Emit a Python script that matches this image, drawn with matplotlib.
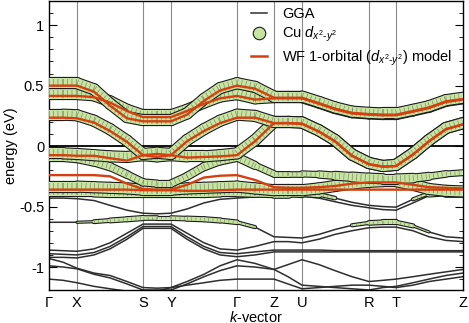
import numpy as np
import matplotlib
matplotlib.use("Agg")
import matplotlib.pyplot as plt
from matplotlib.lines import Line2D
from matplotlib.collections import LineCollection
from matplotlib.ticker import MultipleLocator, FixedLocator

plt.rcParams['font.family'] = ['Liberation Sans', 'DejaVu Sans']
plt.rcParams['mathtext.fontset'] = 'custom'
plt.rcParams['mathtext.rm'] = 'Liberation Sans'
plt.rcParams['mathtext.it'] = 'Liberation Sans:italic'
plt.rcParams['axes.unicode_minus'] = False
plt.rcParams['lines.scale_dashes'] = False

# ---------------- data ----------------
# k-path sample positions (path length units)
k_nodes = [0, 14, 28, 45, 61, 78, 94, 108, 122, 138, 155, 171, 188, 206, 225,
           239, 253, 270, 286, 303, 320, 334, 347, 364, 380, 397, 414]
hs_pos = [0, 28, 94, 122, 188, 225, 253, 320, 347, 414]
hs_labels = ['Γ', 'X', 'S', 'Y', 'Γ', 'Z', 'U', 'R', 'T', 'Z']

# GGA bands with Cu d(x2-y2) weight (eV)
band_A = [0.52, 0.52, 0.52, 0.47, 0.35, 0.24, 0.215, 0.215, 0.215, 0.27, 0.39, 0.48, 0.52,
          0.49, 0.41, 0.41, 0.41, 0.365, 0.32, 0.285, 0.275, 0.27, 0.27, 0.30, 0.33, 0.38, 0.40]
band_B = [0.43, 0.43, 0.43, 0.42, 0.37, 0.30, 0.255, 0.255, 0.255, 0.30, 0.36, 0.41, 0.43,
          0.395, 0.405, 0.405, 0.405, 0.36, 0.315, 0.28, 0.27, 0.265, 0.265, 0.295, 0.325, 0.375, 0.395]
band_C = [0.26, 0.26, 0.255, 0.21, 0.14, 0.045, -0.065, -0.055, -0.065, 0.05, 0.14, 0.21, 0.26,
          0.25, 0.20, 0.20, 0.195, 0.13, 0.05, -0.07, -0.14, -0.165, -0.155, -0.06, 0.05, 0.15, 0.19]
band_D = [-0.06, -0.06, -0.065, -0.075, -0.085, -0.09, -0.075, -0.085, -0.075, -0.085, -0.085, -0.075, -0.06,
          0.05, 0.20, 0.20, 0.195, 0.13, 0.05, -0.07, -0.14, -0.165, -0.155, -0.06, 0.05, 0.15, 0.19]
band_E = [-0.09, -0.09, -0.10, -0.13, -0.17, -0.235, -0.30, -0.31, -0.31, -0.25, -0.17, -0.12, -0.09,
          -0.16, -0.23, -0.23, -0.23, -0.235, -0.245, -0.255, -0.265, -0.27, -0.27, -0.265, -0.25, -0.23, -0.22]
band_F = [-0.335, -0.335, -0.335, -0.34, -0.345, -0.35, -0.36, -0.36, -0.36, -0.35, -0.345, -0.34, -0.335,
          -0.35, -0.365, -0.365, -0.365, -0.35, -0.33, -0.31, -0.295, -0.29, -0.29, -0.32, -0.355, -0.37, -0.375]
band_G = [-0.375, -0.375, -0.375, -0.375, -0.38, -0.38, -0.38, -0.38, -0.38, -0.38, -0.38, -0.375, -0.375,
          -0.38, -0.385, -0.385, -0.39, -0.40, -0.43, -0.465, -0.49, -0.50, -0.505, -0.44, -0.39, -0.38, -0.38]
band_L2 = [-0.63, -0.63, -0.63, -0.625, -0.615, -0.605, -0.595, -0.595, -0.595, -0.60, -0.605, -0.615, -0.63,
           -0.67, -0.75, -0.755, -0.76, -0.73, -0.69, -0.655, -0.635, -0.63, -0.63, -0.66, -0.71, -0.75, -0.76]

# Cu d(x2-y2) weights (0..1)
w_full = [1.0] * 27
w_E = [0.8, 0.8, 0.8, 0.75, 0.7, 0.65, 0.6, 0.6, 0.6, 0.65, 0.7, 0.75, 0.8,
       0.6, 0.5, 0.45, 0.45, 0.55, 0.7, 0.85, 0.9, 0.9, 0.9, 0.8, 0.6, 0.5, 0.45]
w_G = [1.0, 1.0, 1.0, 1.0, 1.0, 1.0, 1.0, 1.0, 1.0, 1.0, 1.0, 1.0, 1.0,
       0.9, 0.9, 0.8, 0.7, 0.4, 0.1, 0.0, 0.0, 0.0, 0.0, 0.0, 0.4, 0.9, 1.0]
w_L2 = [0.0, 0.0, 0.0, 0.2, 0.35, 0.4, 0.4, 0.3, 0.3, 0.4, 0.4, 0.4, 0.3,
        0.1, 0.0, 0.0, 0.0, 0.0, 0.0, 0.1, 0.3, 0.4, 0.4, 0.2, 0.0, 0.0, 0.0]

# other GGA bands (no weight)
band_L1 = [-0.43, -0.43, -0.435, -0.45, -0.49, -0.53, -0.555, -0.56, -0.555, -0.52, -0.47, -0.44, -0.43,
           -0.42, -0.41, -0.41, -0.415, -0.43, -0.46, -0.49, -0.51, -0.525, -0.53, -0.47, -0.41, -0.395, -0.39]
band_L3a = [-0.86, -0.865, -0.87, -0.85, -0.80, -0.72, -0.645, -0.645, -0.645, -0.72, -0.80, -0.85, -0.86,
            -0.83, -0.79, -0.79, -0.80, -0.77, -0.73, -0.70, -0.675, -0.67, -0.67, -0.70, -0.75, -0.78, -0.79]
band_L3b = [-0.89, -0.895, -0.90, -0.88, -0.83, -0.75, -0.665, -0.665, -0.665, -0.75, -0.83, -0.88, -0.89,
            -0.875, -0.86, -0.86, -0.86, -0.86, -0.865, -0.865, -0.865, -0.865, -0.865, -0.865, -0.865, -0.865, -0.865]
band_L3c = [-0.92, -0.92, -0.925, -0.90, -0.85, -0.77, -0.68, -0.68, -0.68, -0.77, -0.85, -0.90, -0.915,
            -0.90, -0.875, -0.875, -0.875, -0.875, -0.875, -0.875, -0.875, -0.875, -0.875, -0.875, -0.875, -0.875, -0.875]
band_L4 = [-0.93, -0.96, -1.01, -1.05, -1.07, -1.12, -1.17, -1.175, -1.17, -1.12, -1.06, -0.99, -0.94,
           -0.97, -1.02, -0.98, -0.94, -0.98, -1.03, -1.08, -1.12, -1.11, -1.10, -1.08, -1.06, -1.04, -1.02]
band_L5 = [-0.99, -1.00, -1.015, -1.06, -1.09, -1.14, -1.19, -1.19, -1.19, -1.14, -1.08, -1.03, -0.99,
           -1.00, -1.02, -1.08, -1.15, -1.16, -1.17, -1.18, -1.19, -1.17, -1.16, -1.13, -1.10, -1.07, -1.05]
band_L6 = [-1.10, -1.11, -1.13, -1.16, -1.18, -1.20, -1.22, -1.20, -1.17, -1.15, -1.13, -1.11, -1.10,
           -1.10, -1.10, -1.14, -1.18, -1.17, -1.16, -1.15, -1.15, -1.16, -1.17, -1.15, -1.12, -1.10, -1.08]

# Wannier 1-orbital model bands (eV)
wf_A = [0.50, 0.50, 0.50, 0.45, 0.335, 0.23, 0.205, 0.205, 0.205, 0.26, 0.375, 0.46, 0.50,
        0.475, 0.40, 0.40, 0.40, 0.355, 0.31, 0.275, 0.265, 0.26, 0.26, 0.29, 0.32, 0.37, 0.39]
wf_B = [0.415, 0.415, 0.415, 0.405, 0.36, 0.29, 0.24, 0.24, 0.24, 0.29, 0.35, 0.395, 0.415,
        0.385, 0.395, 0.395, 0.395, 0.35, 0.305, 0.27, 0.26, 0.255, 0.255, 0.285, 0.315, 0.365, 0.385]
wf_C = [0.235, 0.235, 0.23, 0.195, 0.125, 0.035, -0.075, -0.065, -0.075, 0.04, 0.125, 0.19, 0.235,
        0.235, 0.19, 0.19, 0.185, 0.12, 0.04, -0.08, -0.15, -0.17, -0.165, -0.07, 0.04, 0.14, 0.18]
wf_D = [-0.075, -0.075, -0.08, -0.08, -0.10, -0.12, -0.075, -0.09, -0.075, -0.095, -0.09, -0.085, -0.075,
        0.04, 0.19, 0.19, 0.185, 0.12, 0.04, -0.08, -0.15, -0.17, -0.165, -0.07, 0.04, 0.14, 0.18]
wf_E = [-0.24, -0.24, -0.24, -0.24, -0.25, -0.31, -0.355, -0.36, -0.36, -0.32, -0.26, -0.245, -0.24,
        -0.28, -0.34, -0.345, -0.345, -0.34, -0.33, -0.31, -0.30, -0.30, -0.30, -0.32, -0.34, -0.345, -0.35]
wf_F = [-0.36, -0.36, -0.36, -0.36, -0.36, -0.36, -0.365, -0.365, -0.365, -0.37, -0.37, -0.365, -0.36,
        -0.36, -0.36, -0.36, -0.36, -0.36, -0.36, -0.36, -0.36, -0.36, -0.36, -0.36, -0.36, -0.36, -0.36]

weighted_bands = [(band_L2, w_L2), (band_G, w_G), (band_F, w_full), (band_E, w_E),
                  (band_D, w_full), (band_C, w_full), (band_B, w_full), (band_A, w_full)]
plain_bands = [band_L1, band_L3a, band_L3b, band_L3c, band_L4, band_L5, band_L6]
wf_bands = [wf_A, wf_B, wf_C, wf_D, wf_E, wf_F]

GREEN = '#c8e4a2'
RED = '#d4400f'
GGA_COL = '#2e2e2e'
EDGE = '#1c1c1c'

# ---------------- figure ----------------
fig = plt.figure(figsize=(4.69, 3.23), dpi=100)
ax = fig.add_axes([0.1045, 0.1022, 0.8827, 0.8947])
k = np.array(k_nodes, dtype=float)

for x in hs_pos[1:-1]:
    ax.axvline(x, color='#8a8a8a', lw=0.8, zorder=1)
ax.axhline(0, color='black', lw=1.3, zorder=1.5)

for b in plain_bands + [bw[0] for bw in weighted_bands]:
    ax.plot(k, b, color=GGA_COL, lw=1.1, zorder=2)

for i, (b, w) in enumerate(weighted_bands):
    pts = np.column_stack([k, np.array(b, float)])
    segs = np.stack([pts[:-1], pts[1:]], axis=1)
    wa = np.array(w, float)
    ww = 0.5 * (wa[:-1] + wa[1:])
    m = ww > 0.05
    lw = ww[m] * 7.2
    z = 3 + 0.03 * i
    ax.add_collection(LineCollection(segs[m], linewidths=lw + 1.6, colors=EDGE,
                                     capstyle='round', joinstyle='round', zorder=z))
    ax.add_collection(LineCollection(segs[m], linewidths=lw, colors=GREEN,
                                     capstyle='round', joinstyle='round', zorder=z + 0.01))
    # bead separators
    ax.add_collection(LineCollection(segs[m], linewidths=lw * 0.8, colors='#3b4a30',
                                     linestyles=[(0, (0.5, 2.6))], capstyle='butt',
                                     alpha=0.55, zorder=z + 0.02))

for b in wf_bands:
    ax.plot(k, b, color=RED, lw=1.7, zorder=5)

ax.set_xlim(0, 414)
ax.set_ylim(-1.19, 1.2)
ax.set_xticks(hs_pos)
ax.set_xticklabels(hs_labels, fontsize=10.5)
ax.tick_params(axis='x', length=0, pad=4)
ax.yaxis.set_major_locator(FixedLocator([-1, -0.5, 0, 0.5, 1]))
ax.set_yticklabels(['-1', '-0.5', '0', '0.5', '1'], fontsize=10.5)
ax.yaxis.set_minor_locator(MultipleLocator(0.1))
ax.tick_params(axis='y', which='both', direction='in', left=True, right=True)
ax.tick_params(axis='y', which='major', length=6, width=0.8)
ax.tick_params(axis='y', which='minor', length=3, width=0.6)
for s in ax.spines.values():
    s.set_linewidth(1.0)

ax.set_ylabel('energy (eV)', fontsize=10.5, labelpad=1)
ax.set_xlabel('$k$-vector', fontsize=10.5, labelpad=0)

handles = [Line2D([], [], color=GGA_COL, lw=1.1),
           Line2D([], [], ls='none', marker='o', markersize=9, markerfacecolor=GREEN,
                  markeredgecolor=EDGE, markeredgewidth=0.8),
           Line2D([], [], color=RED, lw=1.8)]
labels = ['GGA', 'Cu $d_{x^2\\text{-}y^2}$', 'WF 1-orbital ($d_{x^2\\text{-}y^2}$) model']
ax.legend(handles, labels, loc='upper left', bbox_to_anchor=(0.487, 0.978), frameon=False,
          fontsize=10.5, handlelength=1.1, handletextpad=1.05, labelspacing=0.26,
          borderpad=0, borderaxespad=0)

fig.savefig('out.png', dpi=100)
